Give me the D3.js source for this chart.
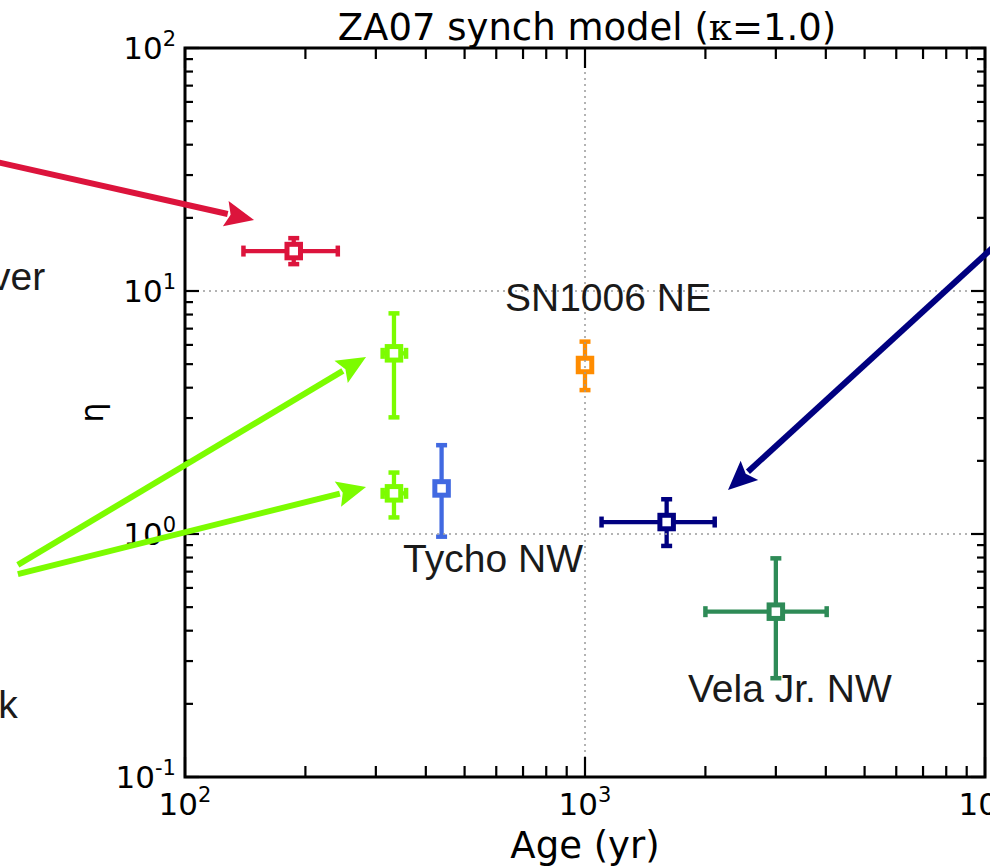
<!DOCTYPE html>
<html>
<head>
<meta charset="utf-8">
<script src="https://cdn.jsdelivr.net/npm/d3@7"></script>
<style>
  html, body { margin: 0; padding: 0; background: #fff; }
  svg { display: block; }
</style>
</head>
<body>
<svg id="chart" width="990" height="868"></svg>
<script>
// ---- data: remnant age (yr) vs. magnetic-turbulence parameter eta ----
const pointColors = ["#dc143c", "#7cfc00", "#7cfc00", "#4169e1", "#ff8c00", "#000080", "#2e8b57"];
const ages        = [187, 333, 333, 438, 1000, 1600, 3000];
const ageLow      = [140, 312, 312, null, null, 1100, 2000];
const ageHigh     = [241, 357, 357, null, null, 2110, 4020];
const etaValues   = [14.6, 5.54, 1.47, 1.54, 4.96, 1.12, 0.479];
const etaLow      = [12.9, 3.02, 1.17, 0.975, 3.91, 0.893, 0.255];
const etaHigh     = [16.5, 8.09, 1.79, 2.32, 6.19, 1.39, 0.794];

const xTickExps = [2, 3, 4];
const yTickExps = [-1, 0, 1, 2];

// text callouts: label, position in data units, anchor
const calloutLabels = ["SN1006 NE", "Tycho NW", "Vela Jr. NW", "ver", "k"];
const calloutAges   = [631, 351, 1809, 44.7, 38.2];
const calloutEtas   = [8.27, 0.698, 0.2035, 10.1, 0.175];
const calloutAnchor = ["start", "start", "start", "end", "end"];

// arrows: from [age, eta] to [age, eta]
const arrowColors = ["#dc143c", "#7cfc00", "#7cfc00", "#000080"];
const arrowFrom   = [[30.7, 35.2], [38.2, 0.746], [38.2, 0.684], [10900, 16.06]];
const arrowTo     = [[148.8, 19.6], [283.5, 5.35], [283.5, 1.561], [2278, 1.518]];

// ---- layout ----
const svg = d3.select("#chart");
const plot = { left: 185, right: 985, top: 48, bottom: 777 };

const x = d3.scaleLog().domain([100, 10000]).range([plot.left, plot.right]);
const y = d3.scaleLog().domain([0.1, 100]).range([plot.bottom, plot.top]);

const data = ages.map((a, i) => ({
  age: a, aLo: ageLow[i], aHi: ageHigh[i],
  eta: etaValues[i], eLo: etaLow[i], eHi: etaHigh[i], color: pointColors[i]
}));

// ---- error bars and markers ----
const gData = svg.append("g");
const capHalf = 5.5;
data.forEach(d => {
  const g = gData.append("g").attr("stroke", d.color).attr("stroke-width", 4.3).attr("fill", "none");
  if (d.aLo != null) {
    g.append("line").attr("x1", x(d.aLo)).attr("x2", x(d.aHi)).attr("y1", y(d.eta)).attr("y2", y(d.eta));
  }
  g.append("line").attr("x1", x(d.age)).attr("x2", x(d.age)).attr("y1", y(d.eLo)).attr("y2", y(d.eHi));
  // caps
  if (d.aLo != null) {
    [d.aLo, d.aHi].forEach(v => g.append("line").attr("stroke-width", 4.5)
      .attr("x1", x(v)).attr("x2", x(v)).attr("y1", y(d.eta) - capHalf).attr("y2", y(d.eta) + capHalf));
  }
  [d.eLo, d.eHi].forEach(v => g.append("line").attr("stroke-width", 4.5)
    .attr("x1", x(d.age) - capHalf).attr("x2", x(d.age) + capHalf).attr("y1", y(v)).attr("y2", y(v)));
  // open square marker
  const s = 13.5;
  g.append("rect").attr("x", x(d.age) - s / 2).attr("y", y(d.eta) - s / 2)
    .attr("width", s).attr("height", s).attr("fill", "#fff").attr("stroke-width", 5);
});

// ---- grid at major decades (drawn above the data) ----
const gGrid = svg.append("g").attr("stroke", "#9a9a9a").attr("stroke-width", 1.5)
  .attr("stroke-dasharray", "2,4");
xTickExps.slice(1, -1).forEach(e => gGrid.append("line")
  .attr("x1", x(10 ** e)).attr("x2", x(10 ** e)).attr("y1", plot.top).attr("y2", plot.bottom));
yTickExps.slice(1, -1).forEach(e => gGrid.append("line")
  .attr("x1", plot.left).attr("x2", plot.right).attr("y1", y(10 ** e)).attr("y2", y(10 ** e)));

// ---- ticks, inward on all four sides ----
function logTicks(lo, hi) {
  const major = [], minor = [];
  for (let e = lo; e <= hi; e++) {
    major.push(10 ** e);
    if (e < hi) for (let m = 2; m <= 9; m++) minor.push(m * 10 ** e);
  }
  return { major, minor };
}
const xt = logTicks(2, 4), yt = logTicks(-1, 2);
const gTicks = svg.append("g").attr("stroke", "#000").attr("stroke-width", 2.2);
const xMajLen = 20, xMinLen = 11, yMajLen = 14, yMinLen = 8;
xt.major.forEach(v => {
  gTicks.append("line").attr("x1", x(v)).attr("x2", x(v)).attr("y1", plot.bottom).attr("y2", plot.bottom - xMajLen);
  gTicks.append("line").attr("x1", x(v)).attr("x2", x(v)).attr("y1", plot.top).attr("y2", plot.top + xMajLen);
});
xt.minor.forEach(v => {
  gTicks.append("line").attr("x1", x(v)).attr("x2", x(v)).attr("y1", plot.bottom).attr("y2", plot.bottom - xMinLen);
  gTicks.append("line").attr("x1", x(v)).attr("x2", x(v)).attr("y1", plot.top).attr("y2", plot.top + xMinLen);
});
yt.major.forEach(v => {
  gTicks.append("line").attr("y1", y(v)).attr("y2", y(v)).attr("x1", plot.left).attr("x2", plot.left + yMajLen);
  gTicks.append("line").attr("y1", y(v)).attr("y2", y(v)).attr("x1", plot.right).attr("x2", plot.right - yMajLen);
});
yt.minor.forEach(v => {
  gTicks.append("line").attr("y1", y(v)).attr("y2", y(v)).attr("x1", plot.left).attr("x2", plot.left + yMinLen);
  gTicks.append("line").attr("y1", y(v)).attr("y2", y(v)).attr("x1", plot.right).attr("x2", plot.right - yMinLen);
});

// axes frame
svg.append("rect").attr("x", plot.left).attr("y", plot.top)
  .attr("width", plot.right - plot.left).attr("height", plot.bottom - plot.top)
  .attr("fill", "none").attr("stroke", "#000").attr("stroke-width", 3);

// ---- tick labels ----
const tickFont = "'DejaVu Sans', sans-serif";
function powerLabel(sel, e) {
  sel.append("tspan").text("10");
  sel.append("tspan").attr("font-size", 21).attr("dy", -13).text(String(e));
}
xTickExps.forEach(e => {
  const t = svg.append("text").attr("x", x(10 ** e)).attr("y", 815)
    .attr("text-anchor", "middle").attr("font-family", tickFont).attr("font-size", 31).attr("fill", "#000");
  powerLabel(t, e);
});
yTickExps.forEach(e => {
  const t = svg.append("text").attr("x", plot.left - 9).attr("y", y(10 ** e) + 11)
    .attr("text-anchor", "end").attr("font-family", tickFont).attr("font-size", 31).attr("fill", "#000");
  powerLabel(t, e);
});

// ---- axis titles ----
svg.append("text").attr("x", (plot.left + plot.right) / 2).attr("y", 858)
  .attr("text-anchor", "middle").attr("font-family", tickFont).attr("font-size", 37)
  .text("Age (yr)");
svg.append("text").attr("transform", `translate(103,${(plot.top + plot.bottom) / 2}) rotate(-90)`)
  .attr("text-anchor", "middle").attr("font-family", tickFont).attr("font-size", 32)
  .text("η");

const title = svg.append("text").attr("x", (plot.left + plot.right) / 2 + 2).attr("y", 40)
  .attr("text-anchor", "middle").attr("font-family", tickFont).attr("font-size", 37);
title.append("tspan").text("ZA07 synch model (");
title.append("tspan").attr("font-family", "'DejaVu Serif', serif").text("κ");
title.append("tspan").text("=1.0)");

// ---- callout text ----
calloutLabels.forEach((lab, i) => {
  svg.append("text").attr("x", x(calloutAges[i])).attr("y", y(calloutEtas[i]))
    .attr("text-anchor", calloutAnchor[i])
    .attr("font-family", "'Liberation Sans', Arial, sans-serif").attr("font-size", 39)
    .attr("fill", "#1a1a1a").text(lab);
});

// ---- callout arrows ----
const headLen = 29, headHalf = 13;
arrowColors.forEach((c, i) => {
  const x0 = x(arrowFrom[i][0]), y0 = y(arrowFrom[i][1]);
  const x1 = x(arrowTo[i][0]), y1 = y(arrowTo[i][1]);
  const dx = x1 - x0, dy = y1 - y0, L = Math.hypot(dx, dy);
  const ux = dx / L, uy = dy / L;
  const bx = x1 - ux * headLen, by = y1 - uy * headLen;
  svg.append("line").attr("x1", x0).attr("y1", y0).attr("x2", bx + ux * 2).attr("y2", by + uy * 2)
    .attr("stroke", c).attr("stroke-width", 6);
  svg.append("path")
    .attr("d", `M${x1},${y1} L${bx - uy * headHalf},${by + ux * headHalf} L${bx + ux * 5},${by + uy * 5} L${bx + uy * headHalf},${by - ux * headHalf} Z`)
    .attr("fill", c);
});
</script>
</body>
</html>
